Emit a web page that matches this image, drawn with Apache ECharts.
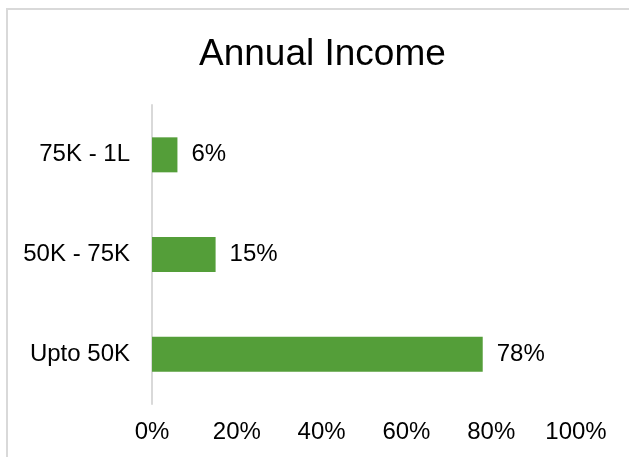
<!DOCTYPE html>
<html>
<head>
<meta charset="utf-8">
<script src="https://cdn.jsdelivr.net/npm/echarts@6/dist/echarts.min.js"></script>
<style>
  html, body { margin: 0; padding: 0; background: #fff; }
  #chart { width: 629px; height: 457px; }
</style>
</head>
<body>
<div id="chart"></div>
<script>
// Income brackets, listed bottom to top along the category axis
const categories = ['Upto 50K', '50K - 75K', '75K - 1L'];
// Share of respondents in each bracket (%)
const shares = [78, 15, 6];
// Value-axis ticks (%)
const ticks = [0, 20, 40, 60, 80, 100];

const FONT = '"Liberation Sans", Arial, sans-serif';

const chart = echarts.init(document.getElementById('chart'), null, { renderer: 'canvas' });

chart.setOption({
  backgroundColor: '#ffffff',
  animation: false,
  title: {
    text: 'Annual Income',
    left: 194,
    top: 31,
    textStyle: { fontFamily: FONT, fontSize: 37, fontWeight: 'normal', color: '#000000' }
  },
  // chart-area frame (only its top and left edges fall inside the page)
  graphic: [{
    type: 'rect',
    shape: { x: 7, y: 9, width: 700, height: 500 },
    style: { fill: 'none', stroke: '#d9d9d9', lineWidth: 2 },
    silent: true
  }],
  grid: { left: 152, right: 53, top: 105, bottom: 53, containLabel: false },
  xAxis: {
    type: 'value',
    min: ticks[0],
    max: ticks[ticks.length - 1],
    interval: ticks[1] - ticks[0],
    axisLine: { show: false },
    axisTick: { show: false },
    splitLine: { show: false },
    axisLabel: {
      formatter: '{value}%',
      margin: 16,
      fontFamily: FONT,
      fontSize: 24,
      color: '#000000'
    }
  },
  yAxis: {
    type: 'category',
    data: categories,
    axisLine: { show: true, lineStyle: { color: '#d9d9d9', width: 2 } },
    axisTick: { show: false },
    splitLine: { show: false },
    axisLabel: {
      margin: 22,
      fontFamily: FONT,
      fontSize: 24,
      color: '#000000'
    }
  },
  series: [{
    type: 'bar',
    data: shares,
    barWidth: 35,
    itemStyle: { color: '#549e39' },
    label: {
      show: true,
      position: 'right',
      distance: 14,
      formatter: '{c}%',
      fontFamily: FONT,
      fontSize: 24,
      color: '#000000'
    }
  }]
});
</script>
</body>
</html>
